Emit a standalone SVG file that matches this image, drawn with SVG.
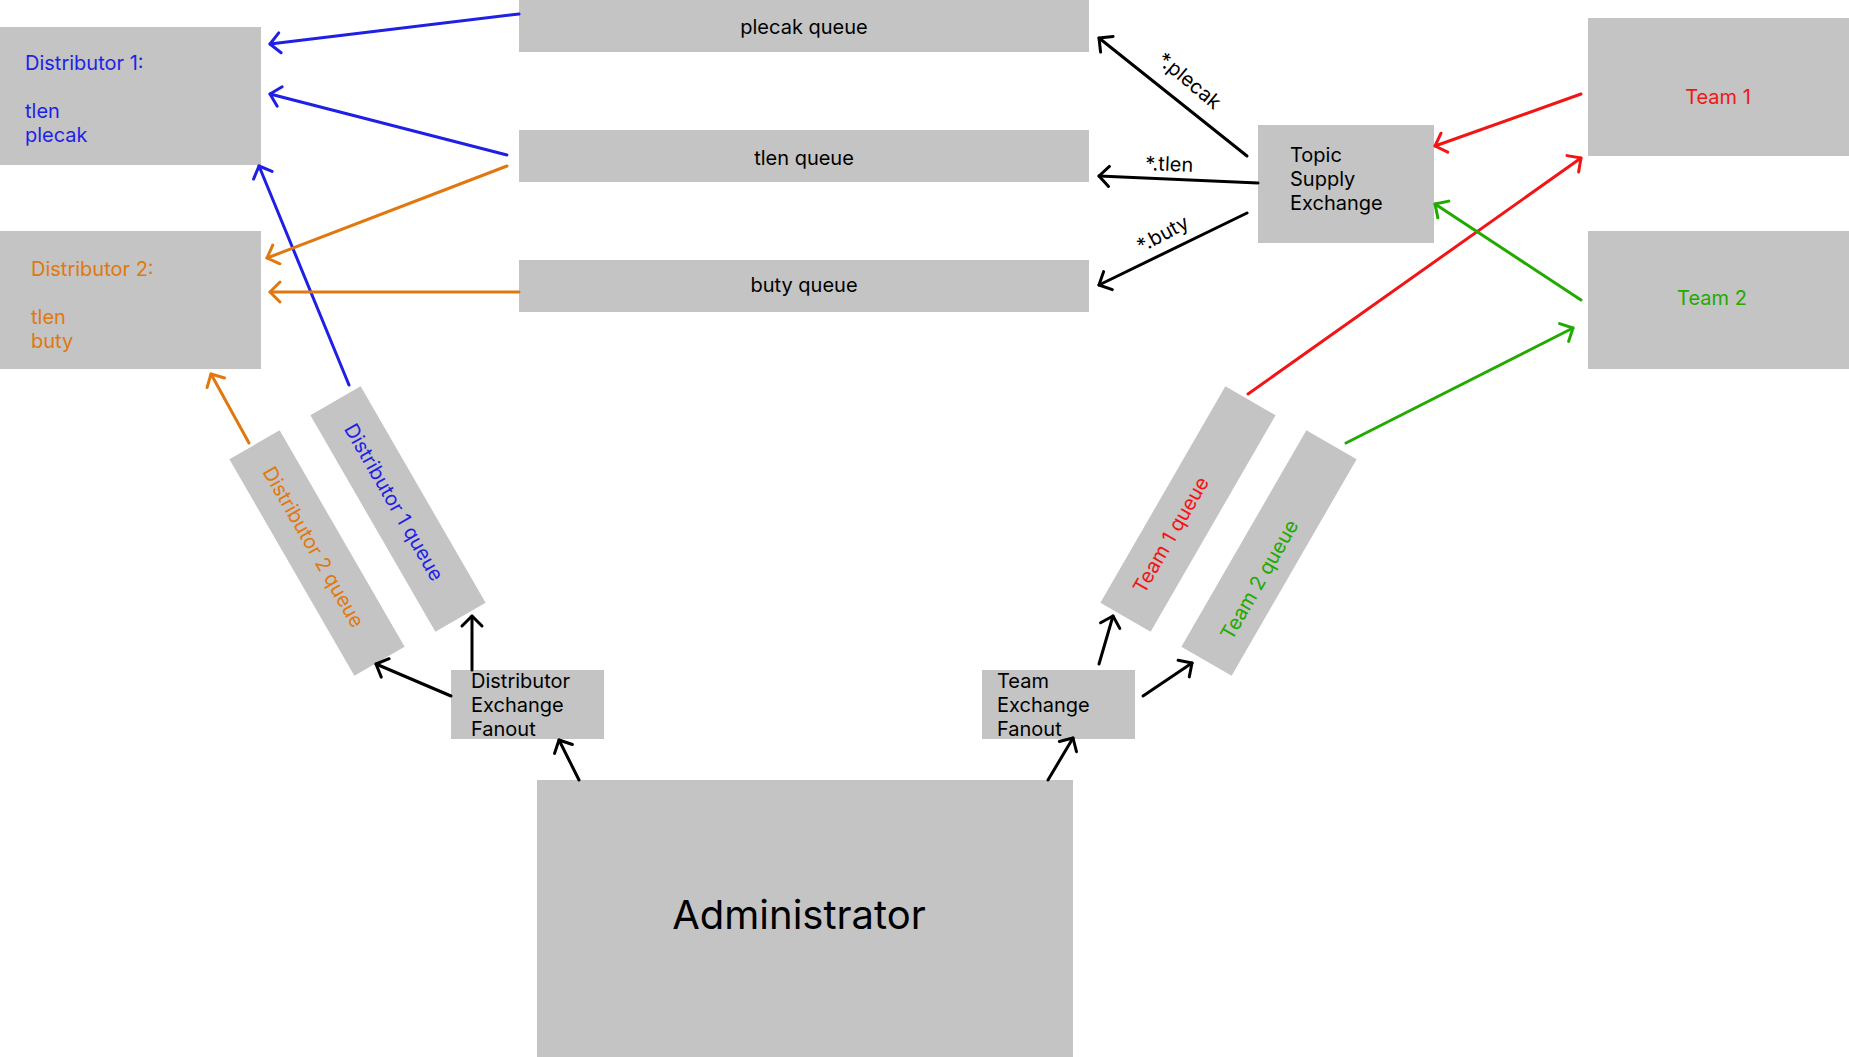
<svg xmlns="http://www.w3.org/2000/svg" width="1849" height="1057" viewBox="0 0 1849 1057">
<style>
  .box { fill: #c4c4c4; }
  text { font-family: Inter, "Noto Sans", "Liberation Sans", sans-serif; font-size: 20px; fill: #000; }
  .mid { text-anchor: middle; }
  .blue { fill: #1f1fe6; }
  .orange { fill: #e0780f; }
  .red { fill: #f21515; }
  .green { fill: #22aa00; }
  .c { fill: none; stroke-width: 3; stroke-linecap: round; }
  .cb { stroke: #1f1fe6; marker-end: url(#mb); }
  .co { stroke: #e0780f; marker-end: url(#mo); }
  .ck { stroke: #000; marker-end: url(#mk); }
  .cr { stroke: #f21515; marker-end: url(#mr); }
  .cg { stroke: #22aa00; marker-end: url(#mg); }
</style>
<defs>
  <marker id="mb" markerUnits="userSpaceOnUse" viewBox="-14 -14 20 28" markerWidth="20" markerHeight="28" refX="0" refY="0" orient="auto"><path d="M-10,-10 L0,0 L-10,10" fill="none" stroke="#1f1fe6" stroke-width="3" stroke-linecap="round" stroke-linejoin="round"/></marker>
  <marker id="mo" markerUnits="userSpaceOnUse" viewBox="-14 -14 20 28" markerWidth="20" markerHeight="28" refX="0" refY="0" orient="auto"><path d="M-10,-10 L0,0 L-10,10" fill="none" stroke="#e0780f" stroke-width="3" stroke-linecap="round" stroke-linejoin="round"/></marker>
  <marker id="mk" markerUnits="userSpaceOnUse" viewBox="-14 -14 20 28" markerWidth="20" markerHeight="28" refX="0" refY="0" orient="auto"><path d="M-10,-10 L0,0 L-10,10" fill="none" stroke="#000" stroke-width="3" stroke-linecap="round" stroke-linejoin="round"/></marker>
  <marker id="mr" markerUnits="userSpaceOnUse" viewBox="-14 -14 20 28" markerWidth="20" markerHeight="28" refX="0" refY="0" orient="auto"><path d="M-10,-10 L0,0 L-10,10" fill="none" stroke="#f21515" stroke-width="3" stroke-linecap="round" stroke-linejoin="round"/></marker>
  <marker id="mg" markerUnits="userSpaceOnUse" viewBox="-14 -14 20 28" markerWidth="20" markerHeight="28" refX="0" refY="0" orient="auto"><path d="M-10,-10 L0,0 L-10,10" fill="none" stroke="#22aa00" stroke-width="3" stroke-linecap="round" stroke-linejoin="round"/></marker>
</defs>
<rect width="1849" height="1057" fill="#fff"/>

<g id="distributor1">
  <rect class="box" x="0" y="27" width="261" height="138"/>
  <text class="blue" x="25" y="70">Distributor 1:<tspan x="25" y="118">tlen</tspan><tspan x="25" y="142">plecak</tspan></text>
</g>
<g id="distributor2">
  <rect class="box" x="0" y="231" width="261" height="138"/>
  <text class="orange" x="31" y="276">Distributor 2:<tspan x="31" y="324">tlen</tspan><tspan x="31" y="348">buty</tspan></text>
</g>
<g id="plecak-queue">
  <rect class="box" x="519" y="0" width="570" height="52"/>
  <text class="mid" x="804" y="34">plecak queue</text>
</g>
<g id="tlen-queue">
  <rect class="box" x="519" y="130" width="570" height="52"/>
  <text class="mid" x="804" y="165">tlen queue</text>
</g>
<g id="buty-queue">
  <rect class="box" x="519" y="260" width="570" height="52"/>
  <text class="mid" x="804" y="292">buty queue</text>
</g>
<g id="topic-supply-exchange">
  <rect class="box" x="1258" y="125" width="176" height="118"/>
  <text x="1290" y="162">Topic<tspan x="1290" y="186">Supply</tspan><tspan x="1290" y="210">Exchange</tspan></text>
</g>
<g id="team1">
  <rect class="box" x="1588" y="18" width="261" height="138"/>
  <text class="mid red" x="1718" y="104">Team 1</text>
</g>
<g id="team2">
  <rect class="box" x="1588" y="231" width="261" height="138"/>
  <text class="mid green" x="1712" y="305">Team 2</text>
</g>
<g id="distributor2-queue" transform="translate(317,553) rotate(60)">
  <rect class="box" x="-125" y="-29" width="250" height="58"/>
  <text class="mid orange" x="-7" y="7">Distributor 2 queue</text>
</g>
<g id="distributor1-queue" transform="translate(398,509) rotate(60)">
  <rect class="box" x="-125" y="-29" width="250" height="58"/>
  <text class="mid blue" x="-8" y="7">Distributor 1 queue</text>
</g>
<g id="team1-queue" transform="translate(1188,509) rotate(-60)">
  <rect class="box" x="-125" y="-29" width="250" height="58"/>
  <text class="mid red" x="-31" y="5">Team 1 queue</text>
</g>
<g id="team2-queue" transform="translate(1269,553) rotate(-60)">
  <rect class="box" x="-125" y="-29" width="250" height="58"/>
  <text class="mid green" x="-28" y="12">Team 2 queue</text>
</g>
<g id="distributor-exchange">
  <rect class="box" x="451" y="670" width="153" height="69"/>
  <text x="471" y="688">Distributor<tspan x="471" y="712">Exchange</tspan><tspan x="471" y="736">Fanout</tspan></text>
</g>
<g id="team-exchange">
  <rect class="box" x="982" y="670" width="153" height="69"/>
  <text x="997" y="688">Team<tspan x="997" y="712">Exchange</tspan><tspan x="997" y="736">Fanout</tspan></text>
</g>
<g id="administrator">
  <rect class="box" x="537" y="780" width="536" height="277"/>
  <text class="mid" x="799" y="929" style="font-size:40px">Administrator</text>
</g>

<g id="connectors">
  <line class="c cb" x1="519" y1="14" x2="270" y2="44"/>
  <line class="c cb" x1="507" y1="155" x2="270" y2="94"/>
  <line class="c cb" x1="349" y1="385" x2="259" y2="166"/>
  <line class="c co" x1="507" y1="166" x2="267" y2="258"/>
  <line class="c co" x1="519" y1="292" x2="270" y2="292"/>
  <line class="c co" x1="249" y1="443" x2="211" y2="374"/>
  <line class="c ck" x1="1247" y1="156" x2="1099" y2="38"/>
  <line class="c ck" x1="1258" y1="183" x2="1099" y2="176"/>
  <line class="c ck" x1="1247" y1="213" x2="1099" y2="285"/>
  <line class="c ck" x1="451" y1="696" x2="376" y2="664"/>
  <line class="c ck" x1="472" y1="670" x2="472" y2="616"/>
  <line class="c ck" x1="579" y1="780" x2="559" y2="740"/>
  <line class="c ck" x1="1099" y1="664" x2="1113" y2="616"/>
  <line class="c ck" x1="1143" y1="696" x2="1192" y2="663"/>
  <line class="c ck" x1="1048" y1="780" x2="1073" y2="738"/>
  <line class="c cr" x1="1581" y1="94" x2="1435" y2="146"/>
  <line class="c cr" x1="1248" y1="394" x2="1581" y2="158"/>
  <line class="c cg" x1="1581" y1="300" x2="1435" y2="204"/>
  <line class="c cg" x1="1346" y1="443" x2="1573" y2="328"/>
  <text class="mid" transform="translate(1185,86) rotate(40)">*.plecak</text>
  <text class="mid" transform="translate(1169,171) rotate(2)">*.tlen</text>
  <text class="mid" transform="translate(1166,240) rotate(-28)">*.buty</text>
</g>
</svg>
